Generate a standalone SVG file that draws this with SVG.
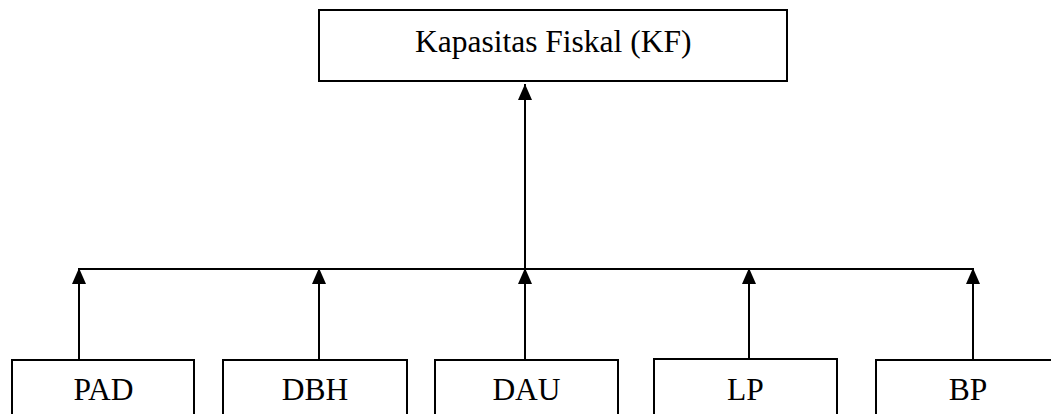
<svg xmlns="http://www.w3.org/2000/svg" width="1051" height="414" viewBox="0 0 1051 414">
  <style>
    .box { fill: #ffffff; stroke: #000000; stroke-width: 2; }
    .label { font-family: "Liberation Serif", "Times New Roman", serif; font-size: 31.5px; fill: #000000; }
    .mid { text-anchor: middle; }
    .wire { fill: none; stroke: #000000; stroke-width: 2; }
  </style>
  <defs>
    <!-- filled triangle head, tip at the end of the line -->
    <marker id="arrow" viewBox="0 0 16 14" refX="16" refY="7" markerWidth="16" markerHeight="14" markerUnits="userSpaceOnUse" orient="auto">
      <path d="M0,0 L16,7 L0,14 Z" fill="#000000"/>
    </marker>
  </defs>

  <rect width="1051" height="414" fill="#ffffff"/>

  <g id="connectors">
    <!-- shared bus -->
    <line class="wire" x1="79" y1="269" x2="973" y2="269"/>
    <!-- bus up to the fiscal capacity box -->
    <line class="wire" x1="525" y1="269" x2="525" y2="84" marker-end="url(#arrow)"/>
    <!-- sources up to the bus -->
    <line class="wire" x1="79" y1="360" x2="79" y2="268" marker-end="url(#arrow)"/>
    <line class="wire" x1="319" y1="360" x2="319" y2="268" marker-end="url(#arrow)"/>
    <line class="wire" x1="525" y1="360" x2="525" y2="268" marker-end="url(#arrow)"/>
    <line class="wire" x1="749" y1="359" x2="749" y2="268" marker-end="url(#arrow)"/>
    <line class="wire" x1="973" y1="360" x2="973" y2="268" marker-end="url(#arrow)"/>
  </g>

  <g id="node-kf">
    <rect class="box" x="319" y="10" width="468" height="71"/>
    <text class="label" x="415" y="52">Kapasitas Fiskal (KF)</text>
  </g>

  <g id="node-pad">
    <rect class="box" x="12" y="360" width="182" height="70"/>
    <text class="label mid" x="103.5" y="400">PAD</text>
  </g>

  <g id="node-dbh">
    <rect class="box" x="223" y="360" width="184" height="70"/>
    <text class="label mid" x="315" y="400">DBH</text>
  </g>

  <g id="node-dau">
    <rect class="box" x="435" y="360" width="183" height="70"/>
    <text class="label mid" x="526.5" y="400">DAU</text>
  </g>

  <g id="node-lp">
    <rect class="box" x="654" y="359" width="183" height="70"/>
    <text class="label mid" x="745.5" y="400">LP</text>
  </g>

  <g id="node-bp">
    <rect class="box" x="876" y="360" width="190" height="70"/>
    <text class="label mid" x="968" y="400">BP</text>
  </g>
</svg>
